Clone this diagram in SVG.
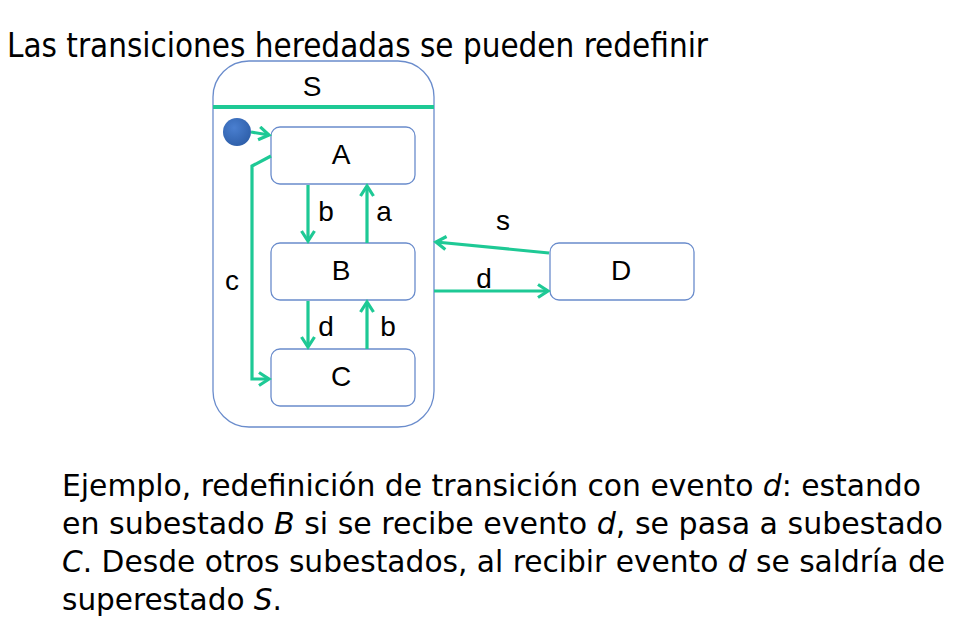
<svg xmlns="http://www.w3.org/2000/svg" width="965" height="643" viewBox="0 0 965 643">
<style>
.st{fill:#fff;stroke:#6a8ccc;stroke-width:1.3}
.lbl{font-family:"Liberation Sans",Arial,sans-serif;font-size:28px;fill:#000;text-anchor:middle}
.tr{fill:none;stroke:#1ec995;stroke-width:3.2}
.txt{font-family:"DejaVu Sans Condensed","DejaVu Sans",sans-serif;font-size:30px;fill:#000}
.ttl{font-family:"DejaVu Sans Condensed","DejaVu Sans",sans-serif;font-size:33px;fill:#000}
.it{font-style:italic}
</style>
<defs>
<marker id="ah" markerUnits="userSpaceOnUse" markerWidth="20" markerHeight="20" refX="14" refY="8" orient="auto">
<path d="M4,1.5 L14,8 L4,14.5" fill="none" stroke="#1ec995" stroke-width="3.2" stroke-linejoin="miter"/>
</marker>
<radialGradient id="dot" cx="0.4" cy="0.35" r="0.7">
<stop offset="0" stop-color="#4a7fd0"/>
<stop offset="1" stop-color="#2d5ea8"/>
</radialGradient>
</defs>
<rect width="965" height="643" fill="#fff"/>
<text class="ttl" x="7" y="57" textLength="701" lengthAdjust="spacingAndGlyphs">Las transiciones heredadas se pueden redefinir</text>

<g id="S">
<rect class="st" x="213" y="61" width="221" height="366" rx="36"/>
<line x1="213" y1="107" x2="434" y2="107" stroke="#1ec995" stroke-width="4"/>
<text class="lbl" x="312" y="96">S</text>
</g>
<g id="init"><circle cx="237" cy="132" r="14" fill="url(#dot)"/></g>
<g id="A"><rect class="st" x="271" y="127" width="144" height="57" rx="9"/><text class="lbl" x="341" y="164">A</text></g>
<g id="B"><rect class="st" x="271" y="243" width="144" height="57" rx="9"/><text class="lbl" x="341" y="280">B</text></g>
<g id="C"><rect class="st" x="271" y="349" width="144" height="57" rx="9"/><text class="lbl" x="341" y="386">C</text></g>
<g id="D"><rect class="st" x="550" y="243" width="144" height="57" rx="9"/><text class="lbl" x="621" y="280">D</text></g>

<g id="connectors">
<path class="tr" d="M251,132 L269,135" marker-end="url(#ah)"/>
<path class="tr" d="M271,156 L252,166 L252,379 L269,379" marker-end="url(#ah)"/>
<path class="tr" d="M308,185 L308,241" marker-end="url(#ah)"/>
<path class="tr" d="M367,243 L367,186" marker-end="url(#ah)"/>
<path class="tr" d="M308,301 L308,347" marker-end="url(#ah)"/>
<path class="tr" d="M367,349 L367,302" marker-end="url(#ah)"/>
<path class="tr" d="M549,253 L436,242" marker-end="url(#ah)"/>
<path class="tr" d="M434,291 L548,291" marker-end="url(#ah)"/>
<text class="lbl" x="232" y="290">c</text>
<text class="lbl" x="326" y="221">b</text>
<text class="lbl" x="384" y="221">a</text>
<text class="lbl" x="326" y="336">d</text>
<text class="lbl" x="388" y="336">b</text>
<text class="lbl" x="503" y="230">s</text>
<text class="lbl" x="484" y="288">d</text>
</g>

<text class="txt" x="62" y="496" textLength="859" lengthAdjust="spacingAndGlyphs">Ejemplo, redefinición de transición con evento <tspan class="it">d</tspan>: estando</text>
<text class="txt" x="62" y="534" textLength="881" lengthAdjust="spacingAndGlyphs">en subestado <tspan class="it">B</tspan> si se recibe evento <tspan class="it">d</tspan>, se pasa a subestado</text>
<text class="txt" x="62" y="572" textLength="883" lengthAdjust="spacingAndGlyphs"><tspan class="it">C</tspan>. Desde otros subestados, al recibir evento <tspan class="it">d</tspan> se saldría de</text>
<text class="txt" x="62" y="610" textLength="220" lengthAdjust="spacingAndGlyphs">superestado <tspan class="it">S</tspan>.</text>
</svg>
